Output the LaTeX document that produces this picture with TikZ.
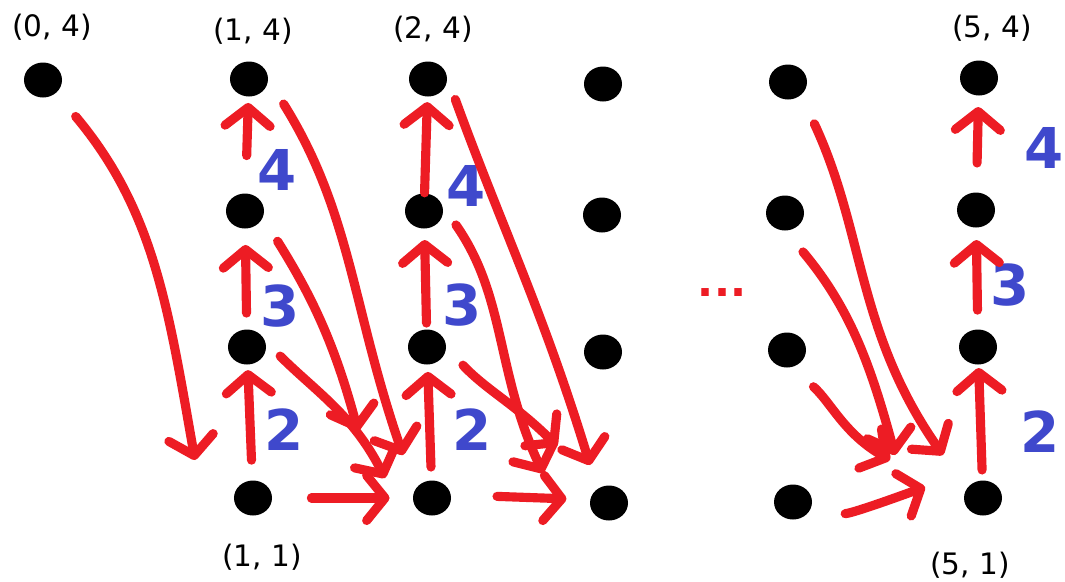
\documentclass[tikz,border=0pt]{standalone}
\usepackage{fontspec}
\setmainfont{DejaVu Sans}
\usetikzlibrary{arrows.meta, positioning, shapes.geometric}
\definecolor{sketchred}{HTML}{ED1C24}
\definecolor{sketchblue}{HTML}{3F48CC}
\tikzset{
  gridpt/.style={ellipse, fill=black, minimum width=9.5mm, minimum height=8.75mm,
    inner sep=0pt, outer sep=0pt},
  coordlabel/.style={font=\fontsize{21}{25}\selectfont, text=black, inner sep=0pt},
  steplabel/.style={font=\fontsize{40}{44}\selectfont\bfseries, text=sketchblue, inner sep=0pt},
  gaplabel/.style={font=\fontsize{30}{34}\selectfont\bfseries, text=sketchred, inner sep=0pt},
  redarrow/.style={-{Straight Barb[length=13pt, width=32pt, round]}, line width=6.5pt,
    sketchred, line cap=round, line join=round},
}

\begin{document}
\begin{tikzpicture}[x=0.025cm, y=-0.025cm]
  \fill[white] (0,0) rectangle (1065,581);
  \useasboundingbox (0,0) rectangle (1065,581);

  \node[gridpt] (n04) at (43,80) {};
  \node[gridpt] (n14) at (249,79) {};
  \node[gridpt] (n13) at (245,211) {};
  \node[gridpt] (n12) at (247,347) {};
  \node[gridpt] (n11) at (253,498) {};
  \node[gridpt] (n24) at (428,79) {};
  \node[gridpt] (n23) at (424,211) {};
  \node[gridpt] (n22) at (427,347) {};
  \node[gridpt] (n21) at (432,498) {};
  \node[gridpt] (n34) at (603,84) {};
  \node[gridpt] (n33) at (602,215) {};
  \node[gridpt] (n32) at (603,352) {};
  \node[gridpt] (n31) at (609,503) {};
  \node[gridpt] (n44) at (788,82) {};
  \node[gridpt] (n43) at (785,213) {};
  \node[gridpt] (n42) at (787,350) {};
  \node[gridpt] (n41) at (793,502) {};
  \node[gridpt] (n54) at (979,78) {};
  \node[gridpt] (n53) at (976,210) {};
  \node[gridpt] (n52) at (978,347) {};
  \node[gridpt] (n51) at (983,498) {};

  \node[coordlabel] (l04) at (52,27) {(0, 4)};
  \node[coordlabel] (l14) at (253,31) {(1, 4)};
  \node[coordlabel] (l24) at (433,29) {(2, 4)};
  \node[coordlabel] (l54) at (992,28) {(5, 4)};
  \node[coordlabel] (l11) at (262,557) {(1, 1)};
  \node[coordlabel] (l51) at (970,565) {(5, 1)};

  \node[steplabel] (s14) at (277,170) {4};
  \node[steplabel] (s13) at (280,306) {3};
  \node[steplabel] (s12) at (284,430) {2};
  \node[steplabel] (s24) at (466,186) {4};
  \node[steplabel] (s23) at (462,305) {3};
  \node[steplabel] (s22) at (472,430) {2};
  \node[steplabel] (s54) at (1044,148) {4};
  \node[steplabel] (s53) at (1010,285) {3};
  \node[steplabel] (s52) at (1040,432) {2};

  \node[gaplabel] (gap) at (722,293) {...};

  \coordinate (tip04) at (195,460);
  \coordinate (tip14) at (403,455);
  \coordinate (tip13) at (358,431);
  \coordinate (tip12) at (385,478);
  \coordinate (tip24) at (590,465);
  \coordinate (tip23) at (543,473);
  \coordinate (tip22) at (557,446);
  \coordinate (tip44) at (943,455);
  \coordinate (tip43) at (895,455);
  \coordinate (tip42) at (890,460);
  \coordinate (tip41) at (925,487);

  \draw[redarrow, shorten <=14.5pt, shorten >=4pt] (n11) -- (n12);
  \draw[redarrow, shorten <=11.7pt, shorten >=11.7pt] (n12) -- (n13);
  \draw[redarrow, shorten <=27pt, shorten >=4.6pt] (n13) -- (n14);
  \draw[redarrow, shorten <=9.6pt, shorten >=5.3pt] (n21) -- (n22);
  \draw[redarrow, shorten <=4.6pt, shorten >=8.2pt] (n22) -- (n23);
  \draw[redarrow, shorten <=0.5pt, shorten >=4pt] (n23) -- (n24);
  \draw[redarrow, shorten <=7.5pt, shorten >=2.5pt] (n51) -- (n52);
  \draw[redarrow, shorten <=13.8pt, shorten >=8.9pt] (n52) -- (n53);
  \draw[redarrow, shorten <=21pt, shorten >=8.2pt] (n53) -- (n54);

  \draw[redarrow, shorten <=21.9pt] (n04.-45) to[out=-50, in=100] (tip04);
  \draw[redarrow, shorten <=21pt] (n14.east) to[out=-58, in=109] (tip14);
  \draw[redarrow, shorten <=20pt] (n13.-20) to[out=-58, in=105] (tip13);
  \draw[redarrow, shorten <=15.6pt] (n12.20) to[out=-45, in=117] (tip12);
  \draw[redarrow, shorten <=28pt, shorten >=16.7pt] (n11) -- (n21);
  \draw[redarrow, shorten <=18pt] (n24.10) to[out=-70, in=107] (tip24);
  \draw[redarrow, shorten <=17.7pt] (n23.20) to[out=-55, in=115] (tip23);
  \draw[redarrow, shorten <=17.7pt] (n22.east) to[out=-47, in=135] (tip22);
  \draw[redarrow, shorten <=33pt, shorten >=17pt] (n21.10) -- (n31.170);
  \draw[redarrow, shorten <=22.7pt] (n44.-45) to[out=-65, in=125] (tip44);
  \draw[redarrow, shorten <=19.9pt] (n43.south) to[out=-50, in=105] (tip43);
  \draw[redarrow, shorten <=21pt] (n42.-75) to[out=-42, in=150] (tip42);
  \draw[redarrow, shorten <=30.9pt] (n41.-60) to[out=5, in=200] (tip41);
\end{tikzpicture}
\end{document}
